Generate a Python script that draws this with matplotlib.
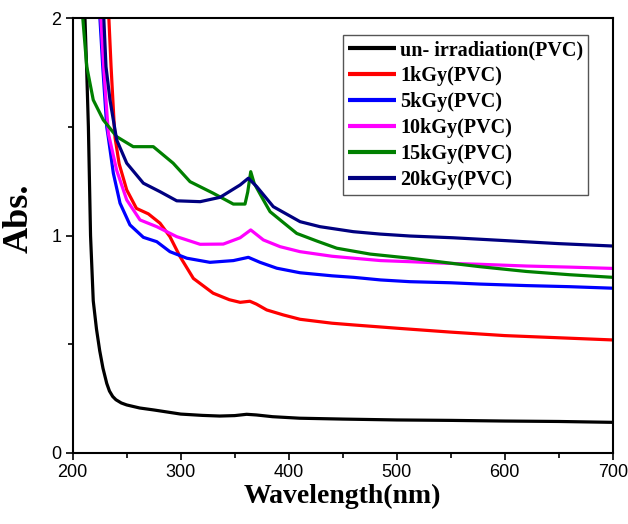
import numpy as np
import matplotlib
matplotlib.use('Agg')
import matplotlib.pyplot as plt
from matplotlib.ticker import MultipleLocator

# UV-Vis absorbance of PVC films
labels = ['un- irradiation(PVC)', '1kGy(PVC)', '5kGy(PVC)',
          '10kGy(PVC)', '15kGy(PVC)', '20kGy(PVC)']
colors = ['black', 'red', 'blue', 'magenta', 'green', 'navy']

wl_black = [211, 213, 214.5, 216.5, 219, 222, 225, 228, 231.5, 234, 237, 240, 245, 250,
            262, 275, 300, 320, 336, 350, 361, 370, 385, 410, 450, 500, 550, 600, 650, 700]
abs_black = [2.05, 1.75, 1.5, 1.0, 0.70, 0.57, 0.47, 0.39, 0.32, 0.285, 0.26, 0.245, 0.23,
             0.221, 0.207, 0.198, 0.179, 0.173, 0.170, 0.172, 0.178, 0.175, 0.167, 0.160,
             0.156, 0.152, 0.150, 0.147, 0.145, 0.141]

wl_red = [233, 235.5, 238.5, 239.2, 243, 250, 259, 270, 280.8, 290, 299.4, 311.7, 330,
          345, 355, 364, 370, 379.6, 395, 410.5, 440, 460, 500, 550, 600, 650, 700]
abs_red = [2.05, 1.777, 1.5, 1.45, 1.33, 1.21, 1.125, 1.10, 1.057, 0.995, 0.903, 0.803,
           0.735, 0.705, 0.693, 0.698, 0.685, 0.658, 0.635, 0.615, 0.597, 0.589, 0.574,
           0.556, 0.540, 0.530, 0.52]

wl_blue = [224.6, 227.8, 231.5, 233, 237.6, 243.8, 253, 265.4, 277.8, 290, 305.6, 327,
           348.7, 362.6, 373.4, 388.9, 410.5, 440, 460, 485, 512, 550, 577, 620, 660, 700]
abs_blue = [2.05, 1.777, 1.5, 1.45, 1.287, 1.149, 1.049, 0.992, 0.972, 0.926, 0.896, 0.877,
            0.885, 0.90, 0.877, 0.85, 0.829, 0.815, 0.808, 0.796, 0.788, 0.783, 0.777,
            0.77, 0.765, 0.758]

wl_mag = [225.5, 229, 233, 240.7, 250, 262.3, 277.8, 296.3, 317.9, 339.4, 355, 364.8,
          376.5, 392, 410.5, 440, 460, 485, 512, 550, 577, 620, 660, 700]
abs_mag = [2.05, 1.75, 1.47, 1.30, 1.164, 1.072, 1.041, 0.995, 0.96, 0.961, 0.99, 1.026,
           0.98, 0.949, 0.926, 0.905, 0.896, 0.885, 0.88, 0.872, 0.868, 0.86, 0.855, 0.849]

wl_green = [208.5, 213, 219, 228.3, 240.7, 256, 274.6, 293, 308.6, 330, 348.7, 359.5, 362,
            364.8, 368, 376.5, 382.7, 395, 407.4, 426, 444.4, 475.3, 512.3, 555, 577, 620,
            660, 700]
abs_green = [2.05, 1.777, 1.624, 1.532, 1.455, 1.409, 1.409, 1.333, 1.248, 1.195, 1.145,
             1.145, 1.20, 1.294, 1.24, 1.164, 1.11, 1.06, 1.01, 0.975, 0.942, 0.915, 0.896,
             0.87, 0.857, 0.835, 0.82, 0.808]

wl_navy = [228.3, 230.8, 234.5, 240.7, 250, 265.4, 280.8, 296.3, 318, 336.4, 355, 362.6,
           370.4, 385.7, 410.5, 428.9, 459.8, 484.5, 512.3, 552, 600, 650, 700]
abs_navy = [2.05, 1.777, 1.624, 1.44, 1.333, 1.241, 1.202, 1.16, 1.156, 1.176, 1.233, 1.264,
            1.225, 1.133, 1.064, 1.041, 1.018, 1.007, 0.998, 0.99, 0.977, 0.963, 0.952]

series = [(wl_black, abs_black), (wl_red, abs_red), (wl_blue, abs_blue),
          (wl_mag, abs_mag), (wl_green, abs_green), (wl_navy, abs_navy)]

serif_bold = {'family': 'Liberation Serif', 'weight': 'bold'}

fig = plt.figure(figsize=(6.28, 5.24), dpi=100)
ax = fig.add_axes([0.1158, 0.1355, 0.86, 0.8298])

for (x, y), c, lab in zip(series, colors, labels):
    ax.plot(x, y, color=c, lw=2.3, label=lab, solid_capstyle='butt')

ax.set_xlim(200, 700)
ax.set_ylim(0, 2)
ax.xaxis.set_major_locator(MultipleLocator(100))
ax.xaxis.set_minor_locator(MultipleLocator(50))
ax.yaxis.set_major_locator(MultipleLocator(1))
ax.yaxis.set_minor_locator(MultipleLocator(0.5))
ax.tick_params(which='major', direction='out', length=5, width=1.2,
               labelsize=13, pad=3)
ax.tick_params(which='minor', direction='out', length=3.5, width=1.2)
for t in ax.get_xticklabels() + ax.get_yticklabels():
    t.set_fontfamily('Liberation Sans')
for s in ax.spines.values():
    s.set_linewidth(1.5)

ax.set_xlabel('Wavelength(nm)', fontdict=serif_bold, fontsize=20, labelpad=2)
ax.set_ylabel('Abs.', fontdict=serif_bold, fontsize=26)
ax.yaxis.set_label_coords(-0.068, 0.54)

leg = ax.legend(loc='upper left', bbox_to_anchor=(0.50, 0.961), borderaxespad=0,
                prop={'family': 'Liberation Serif', 'weight': 'bold', 'size': 14.5},
                handlelength=2.4, handletextpad=0.2, labelspacing=0.3,
                borderpad=0.25, fancybox=False, framealpha=1)
leg.get_frame().set_edgecolor('#555555')
leg.get_frame().set_linewidth(1.0)
for line in leg.get_lines():
    line.set_linewidth(3)

fig.savefig('out.png', dpi=100)
